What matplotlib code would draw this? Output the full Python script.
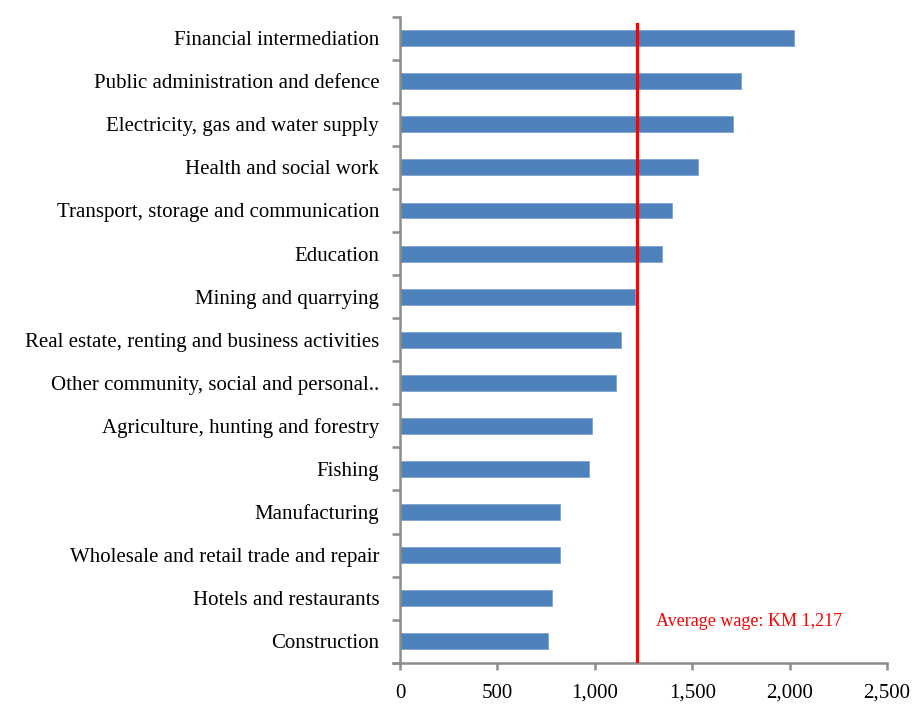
import matplotlib
matplotlib.use("Agg")
import matplotlib.pyplot as plt
from matplotlib.ticker import FuncFormatter, FixedLocator

sectors = [
    "Financial intermediation",
    "Public administration and defence",
    "Electricity, gas and water supply",
    "Health and social work",
    "Transport, storage and communication",
    "Education",
    "Mining and quarrying",
    "Real estate, renting and business activities",
    "Other community, social and personal..",
    "Agriculture, hunting and forestry",
    "Fishing",
    "Manufacturing",
    "Wholesale and retail trade and repair",
    "Hotels and restaurants",
    "Construction",
]
wages = [2021, 1751, 1710, 1530, 1396, 1345, 1208, 1132, 1108, 988, 971, 819, 819, 778, 759]
average_wage = 1217
x_ticks = [0, 500, 1000, 1500, 2000, 2500]

plt.rcParams["font.family"] = ["Liberation Serif", "DejaVu Serif"]

fig = plt.figure(figsize=(9.13, 7.04), dpi=100)
ax = fig.add_axes([393 / 913, 1 - 662.7 / 704, (887 - 393) / 913, (662.7 - 16.7) / 704])

ypos = list(range(len(sectors)))
ax.barh(ypos, wages, height=0.37, left=0, color="#4F81BD", edgecolor="#7FA3D3", linewidth=0.6, zorder=2)

ax.set_xlim(-36, 2500)
ax.set_ylim(len(sectors) - 0.5, -0.5)

grey = "#8C8C8C"
for side in ("top", "right"):
    ax.spines[side].set_visible(False)
ax.spines["left"].set_position(("data", 0))
for side in ("left", "bottom"):
    ax.spines[side].set_color(grey)
    ax.spines[side].set_linewidth(1.8)

ax.set_yticks(ypos)
ax.set_yticklabels(sectors, fontsize=15)
ax.yaxis.set_minor_locator(FixedLocator([i - 0.5 for i in range(len(sectors) + 1)]))
ax.tick_params(axis="y", which="major", length=0, pad=15)
ax.tick_params(axis="y", which="minor", length=5.5, width=1.8, color=grey, direction="out")

ax.set_xticks(x_ticks)
ax.xaxis.set_major_formatter(FuncFormatter(lambda v, p: f"{int(v):,}"))
ax.tick_params(axis="x", which="major", length=5, width=1.8, color=grey, direction="out", pad=10, labelsize=15)

ax.axvline(average_wage, ymin=0, ymax=(662.7 - 24) / 646, color="#FF0000", linewidth=2.3, zorder=3)
ax.text(average_wage + 95, 13.54, f"Average wage: KM {average_wage:,}", color="#FF0000",
        fontsize=13, va="center", ha="left")

fig.savefig("out.png", dpi=100)
